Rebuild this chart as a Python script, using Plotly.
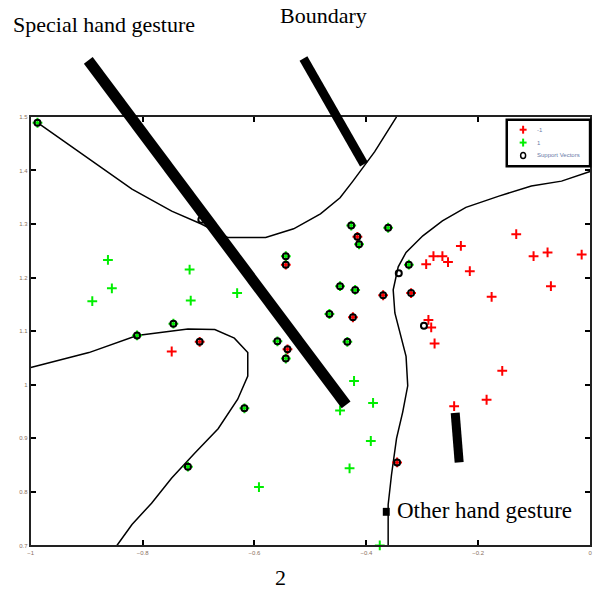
import plotly.graph_objects as go

W, H = 599, 595

# ---- class -1 (red) ----
red_x = [-0.132, -0.231, -0.280, -0.264, -0.254, -0.293, -0.215, -0.101, -0.076, -0.015,
         -0.070, -0.176, -0.289, -0.284, -0.278, -0.157, -0.185, -0.243, -0.748,
         -0.416, -0.370, -0.320, -0.424, -0.544, -0.698, -0.541, -0.345]
red_y = [1.281, 1.259, 1.240, 1.240, 1.229, 1.225, 1.212, 1.240, 1.247, 1.243,
         1.184, 1.164, 1.121, 1.107, 1.077, 1.026, 0.972, 0.960, 1.062,
         1.276, 1.167, 1.171, 1.126, 1.224, 1.080, 1.066, 0.855]

# ---- class 1 (green) ----
green_x = [-0.862, -0.855, -0.890, -0.716, -0.714, -0.631, -0.422, -0.447, -0.388, -0.392,
           -0.430, -0.592, -0.376,
           -0.427, -0.413, -0.361, -0.324, -0.447, -0.420, -0.466, -0.434, -0.988,
           -0.544, -0.745, -0.810, -0.559, -0.544, -0.618, -0.719]
green_y = [1.233, 1.180, 1.156, 1.215, 1.157, 1.171, 1.007, 0.952, 0.966, 0.895,
           0.844, 0.809, 0.700,
           1.297, 1.262, 1.293, 1.224, 1.184, 1.177, 1.132, 1.080, 1.489,
           1.240, 1.114, 1.092, 1.081, 1.049, 0.956, 0.847]

# ---- support vectors ----
sv_x = [-0.416, -0.370, -0.320, -0.424, -0.544, -0.698, -0.541, -0.345,
        -0.427, -0.413, -0.361, -0.324, -0.447, -0.420, -0.466, -0.434, -0.988,
        -0.544, -0.745, -0.810, -0.559, -0.544, -0.618, -0.719,
        -0.297, -0.695, -0.342]
sv_y = [1.276, 1.167, 1.171, 1.126, 1.224, 1.080, 1.066, 0.855,
        1.297, 1.262, 1.293, 1.224, 1.184, 1.177, 1.132, 1.080, 1.489,
        1.240, 1.114, 1.092, 1.081, 1.049, 0.956, 0.847,
        1.110, 1.308, 1.208]

# ---- decision boundary pieces ----
b1_x = [-0.988, -0.896, -0.819, -0.748, -0.695, -0.648, -0.580, -0.530, -0.482, -0.447, -0.424, -0.385, -0.346]
b1_y = [1.489, 1.421, 1.365, 1.324, 1.300, 1.275, 1.275, 1.291, 1.319, 1.349, 1.380, 1.435, 1.500]
b2_x = [0.0, -0.051, -0.105, -0.163, -0.222, -0.264, -0.299, -0.329, -0.343, -0.352, -0.349, -0.340,
        -0.329, -0.326, -0.335, -0.346, -0.355, -0.361, -0.361]
b2_y = [1.398, 1.380, 1.371, 1.352, 1.331, 1.306, 1.278, 1.247, 1.220, 1.177, 1.134, 1.097,
        1.053, 0.998, 0.949, 0.900, 0.832, 0.776, 0.700]
b3_x = [-1.0, -0.896, -0.810, -0.748, -0.719, -0.671, -0.636, -0.612, -0.612, -0.630, -0.665,
        -0.707, -0.748, -0.784, -0.819, -0.846]
b3_y = [1.032, 1.060, 1.092, 1.100, 1.104, 1.103, 1.087, 1.060, 1.016, 0.973, 0.918,
        0.872, 0.826, 0.779, 0.739, 0.700]

x_ticks = [-1, -0.8, -0.6, -0.4, -0.2, 0]
y_ticks = [0.7, 0.8, 0.9, 1.0, 1.1, 1.2, 1.3, 1.4, 1.5]
legend_labels = ["-1", "1", "Support Vectors"]

RED, GREEN = "red", "#00ee00"

fig = go.Figure()
for bx, by in [(b1_x, b1_y), (b2_x, b2_y), (b3_x, b3_y)]:
    fig.add_trace(go.Scatter(x=bx, y=by, mode="lines", line=dict(color="black", width=1.5),
                             showlegend=False, hoverinfo="skip"))

fig.add_trace(go.Scatter(x=red_x, y=red_y, mode="markers", name=legend_labels[0], cliponaxis=False,
                         marker=dict(symbol="cross-thin", size=7, line=dict(color=RED, width=2))))
fig.add_trace(go.Scatter(x=green_x, y=green_y, mode="markers", name=legend_labels[1], cliponaxis=False,
                         marker=dict(symbol="cross-thin", size=7, line=dict(color=GREEN, width=2))))
fig.add_trace(go.Scatter(x=sv_x, y=sv_y, mode="markers", name=legend_labels[2], cliponaxis=False,
                         marker=dict(symbol="circle-open", size=6, color="black",
                                     line=dict(color="black", width=2))))


def px(x, y):
    return x / W, 1 - y / H


shapes = []
for (x0, y0, x1, y1, w) in [(86, 58, 346, 406, 11), (303, 56, 364, 163, 9), (456, 414, 460, 464, 9)]:
    a, b = px(x0, y0)
    c, d = px(x1, y1)
    shapes.append(dict(type="line", xref="paper", yref="paper", x0=a, y0=b, x1=c, y1=d,
                       line=dict(color="black", width=w)))
a, b = px(383, 510)
c, d = px(390, 518)
shapes.append(dict(type="rect", xref="paper", yref="paper", x0=a, y0=b, x1=c, y1=d,
                   fillcolor="black", line=dict(width=0)))

# custom compact legend (MATLAB style)
a, b = px(508, 118)
c, d = px(592, 165)
shapes.append(dict(type="rect", xref="paper", yref="paper", x0=a, y0=b, x1=c, y1=d,
                   fillcolor="white", line=dict(color="black", width=2.5)))
for cy, col in [(128, RED), (141, GREEN)]:
    for (x0, y0, x1, y1) in [(521, cy, 528, cy), (524.5, cy - 4, 524.5, cy + 4)]:
        p, q = px(x0, y0)
        r, s = px(x1, y1)
        shapes.append(dict(type="line", xref="paper", yref="paper", x0=p, y0=q, x1=r, y1=s,
                           line=dict(color=col, width=2)))
p, q = px(522, 151)
r, s = px(527, 157)
shapes.append(dict(type="circle", xref="paper", yref="paper", x0=p, y0=q, x1=r, y1=s,
                   line=dict(color="black", width=1.5)))

annots = []
for lab, cy in zip(legend_labels, [128, 141, 154]):
    p, q = px(536, cy)
    annots.append(dict(text=lab, x=p, y=q, xref="paper", yref="paper", xanchor="left",
                       yanchor="middle", showarrow=False,
                       font=dict(family="Liberation Sans", size=6, color="#6a7aa8")))

serif = "Liberation Serif"
for txt, x, y, anchor, fs in [("Special hand gesture", 8, 22, "left", 22),
                              ("Boundary", 277, 13, "left", 22),
                              ("Other hand gesture", 395, 513, "left", 23),
                              ("2", 280, 580, "center", 22)]:
    a, b = px(x, y)
    annots.append(dict(text=txt, x=a, y=b, xref="paper", yref="paper", xanchor=anchor,
                       yanchor="middle", showarrow=False,
                       font=dict(family=serif, size=fs, color="black")))

axis_common = dict(showline=True, linewidth=2, linecolor="#222", mirror="ticks", ticks="inside",
                   ticklen=5, tickwidth=2, tickcolor="black", showgrid=False, zeroline=False,
                   tickfont=dict(size=6, color="#8a7060", family="Liberation Sans"))

fig.update_layout(
    width=W, height=H, margin=dict(l=0, r=0, t=0, b=0),
    paper_bgcolor="white", plot_bgcolor="white",
    xaxis=dict(range=[-1, 0], tickvals=x_ticks, domain=[28 / W, 592 / W], **axis_common),
    yaxis=dict(range=[0.7, 1.5], tickvals=y_ticks, domain=[1 - 548 / H, 1 - 115 / H], **axis_common),
    shapes=shapes, annotations=annots, showlegend=False,
)

fig.write_html("out.html", config={"displayModeBar": False},
               post_script="document.body.style.margin='0';")
